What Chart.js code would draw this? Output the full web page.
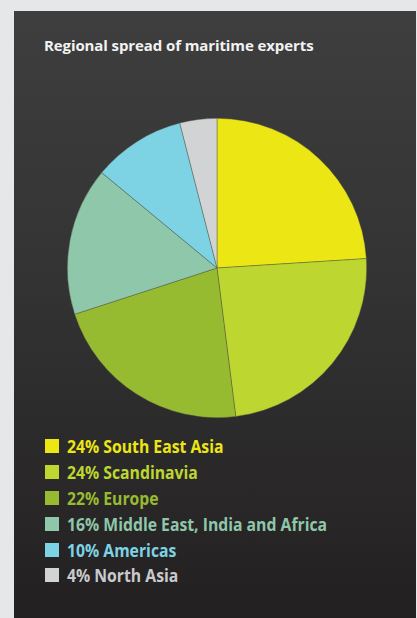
<!DOCTYPE html>
<html>
<head>
<meta charset="utf-8">
<script src="https://cdn.jsdelivr.net/npm/chart.js@4.4.1/dist/chart.umd.min.js"></script>
<style>
  html, body { margin: 0; padding: 0; }
  body { width: 417px; height: 618px; background: #e6e7e8; position: relative; overflow: hidden; }
  #panel {
    position: absolute; left: 14px; top: 11px; width: 402px; height: 607px;
    background: linear-gradient(to bottom, #3e3e3e 0%, #333333 45%, #232021 100%);
  }
  #title {
    position: absolute; left: 44px; top: 35px;
    font: bold 15px "Open Sans", sans-serif; color: #f2f2f2; letter-spacing: -0.1px;
  }
  #pieBox { position: absolute; left: 67px; top: 118px; width: 300px; height: 300px; }
  #legend {
    position: absolute; left: 45px; top: 433px; margin: 0; padding: 0; list-style: none;
    font: bold 17.5px "Open Sans", sans-serif;
  }
  #legend li { height: 25.9px; display: flex; align-items: center; white-space: nowrap; }
  #legend span.box { width: 14px; height: 14px; margin-right: 8px; flex: none; }
  #legend span.txt { display: inline-block; transform: scaleX(0.9); transform-origin: left center; }
</style>
</head>
<body>
<div id="panel"></div>
<div id="title">Regional spread of maritime experts</div>
<div id="pieBox"><canvas id="pieChart"></canvas></div>
<ul id="legend"></ul>
<script>
// 지역별 비율 (%)
const regions = ['South East Asia', 'Scandinavia', 'Europe', 'Middle East, India and Africa', 'Americas', 'North Asia'];
const shares = [24, 24, 22, 16, 10, 4];
const sliceColors = ['#ebe614', '#bed630', '#97bb30', '#8ec7a9', '#7dd3e4', '#d2d3d5'];
const textColors = ['#ebe614', '#bed630', '#97bb30', '#8ec7a9', '#7dd3e4', '#c9cacc'];

document.addEventListener('DOMContentLoaded', function() {
    const ctx = document.getElementById('pieChart');

    new Chart(ctx, {
        type: 'pie',
        data: {
            labels: regions,
            datasets: [{
                data: shares,
                backgroundColor: sliceColors,
                borderColor: 'rgba(80, 85, 70, 0.6)',
                borderWidth: 0.7
            }]
        },
        options: {
            responsive: true,
            maintainAspectRatio: false,
            animation: false,
            layout: { padding: 0 },
            plugins: {
                legend: { display: false },
                tooltip: { enabled: false }
            }
        }
    });

    // 범례는 데이터 배열로 직접 생성
    const legend = document.getElementById('legend');
    regions.forEach((name, i) => {
        const li = document.createElement('li');
        const box = document.createElement('span');
        box.className = 'box';
        box.style.background = sliceColors[i];
        const label = document.createElement('span');
        label.className = 'txt';
        label.textContent = shares[i] + '% ' + name;
        label.style.color = textColors[i];
        li.appendChild(box);
        li.appendChild(label);
        legend.appendChild(li);
    });
});
</script>
</body>
</html>
